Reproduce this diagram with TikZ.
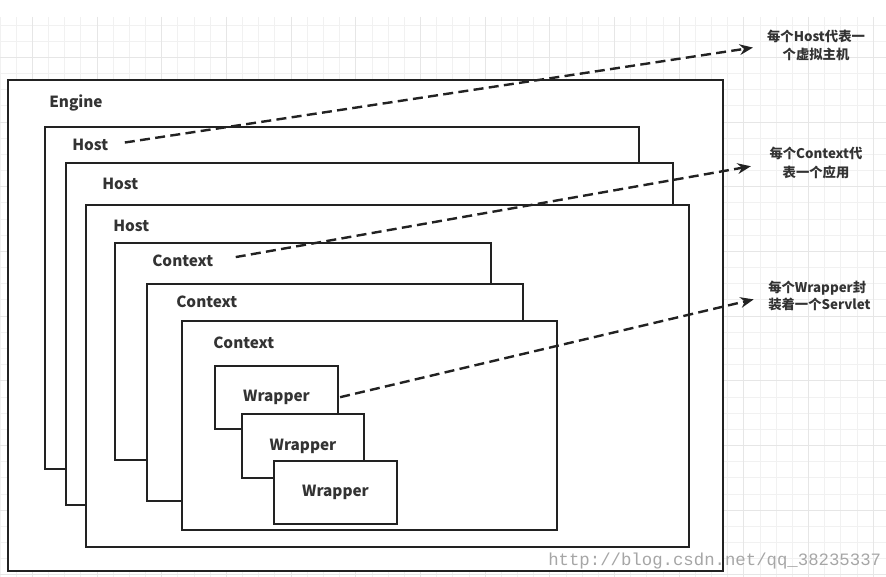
\documentclass[tikz,border=0pt]{standalone}
\usepackage{fontspec}
\setmainfont{Noto Sans CJK SC}
\newfontfamily\wmfont{Liberation Mono}
\usepackage{tikz}
\usetikzlibrary{arrows.meta,positioning}

\definecolor{ink}{HTML}{222222}
\definecolor{txt}{HTML}{333333}
\definecolor{gridfine}{HTML}{F1F1F1}
\definecolor{gridmajor}{HTML}{E6E6E6}

\begin{document}
\begin{tikzpicture}[x=0.75pt,y=-0.75pt,line join=miter,
    box/.style={draw=ink,line width=1.5pt,fill=white},
    lbl/.style={anchor=west,inner sep=0,text=txt,font=\fontsize{11.5}{13}\selectfont\bfseries},
    wrapbox/.style={draw=ink,line width=1.5pt,fill=white,inner sep=0,
      minimum width=92pt,minimum height=47.5pt,text=txt,font=\fontsize{11.5}{13}\selectfont\bfseries},
    note/.style={inner sep=0,text=txt,font=\fontsize{10}{14}\selectfont\bfseries},
    link/.style={ink,line width=1.8pt,dash pattern=on 7.5pt off 4pt,-{Stealth[length=10pt,width=8pt]}},
    wmark/.style={anchor=west,inner sep=0,text=black!35,font=\fontsize{13}{15}\selectfont\wmfont}]

        \useasboundingbox (0,0) rectangle (886,577);

        % background grid
        \begin{scope}
        \clip (0,17) rectangle (886,577);
        \foreach \i in {0,...,54}
          \draw[gridfine,line width=.6pt] (\i*16.17,17) -- (\i*16.17,577);
        \foreach \j in {-1,...,34}
          \draw[gridfine,line width=.6pt] (0,25+\j*16.17) -- (886,25+\j*16.17);
        \foreach \i in {0,...,13}
          \draw[gridmajor,line width=.7pt] (32.3+\i*64.68,17) -- (32.3+\i*64.68,577);
        \foreach \j in {-1,...,8}
          \draw[gridmajor,line width=.7pt] (0,57.3+\j*64.68) -- (886,57.3+\j*64.68);
        \end{scope}

        % engine and hosts
        \draw[box] (8,80) rectangle (723,571);
        \draw[box] (45,127) rectangle (639,469);
        \draw[box] (66,163) rectangle (673,505);
        \draw[box] (86,205) rectangle (689,547);

        % contexts
        \draw[box] (115,243) rectangle (491,460);
        \draw[box] (147,284) rectangle (523,501);
        \draw[box] (182,321) rectangle (557,530);

        \node[lbl] (engine) at (49,103) {Engine};
        \node[lbl] (host1) at (72,145) {Host};
        \node[lbl] (host2) at (102,184) {Host};
        \node[lbl] (host3) at (113,226) {Host};
        \node[lbl] (ctx1) at (152,261) {Context};
        \node[lbl] (ctx2) at (176,302) {Context};
        \node[lbl] (ctx3) at (213,343) {Context};

        % wrappers
        \node[wrapbox] (wrap1) at (276.5,397.5) {Wrapper};
        \node[wrapbox] (wrap2) at (303,446) {Wrapper};
        \node[wrapbox] (wrap3) at (335.5,492.5) {Wrapper};

        % notes
        \node[note,align=center] (hostnote) at (816,45.5) {每个Host代表一\\个虚拟主机};
        \node[note,align=center] (ctxnote) at (816,163) {每个Context代\\表一个应用};
        \node[note,align=left,anchor=west,font=\fontsize{10}{13}\selectfont\bfseries] (wrapnote) at (768,296) {每个Wrapper封\\装着一个Servlet};

        \draw[link,shorten <=12.5pt,shorten >=10.5pt] (host1.east) -- (hostnote.west);
        \draw[link,shorten <=17pt,shorten >=14pt] (ctx1.east) -- (ctxnote.west);
        \draw[link,shorten <=1pt,shorten >=11pt] (wrap1.east) -- (wrapnote.west);

        \node[wmark] (wm) at (548,561) {http://blog.csdn.net/qq\_38235337};

      \end{tikzpicture}
\end{document}
